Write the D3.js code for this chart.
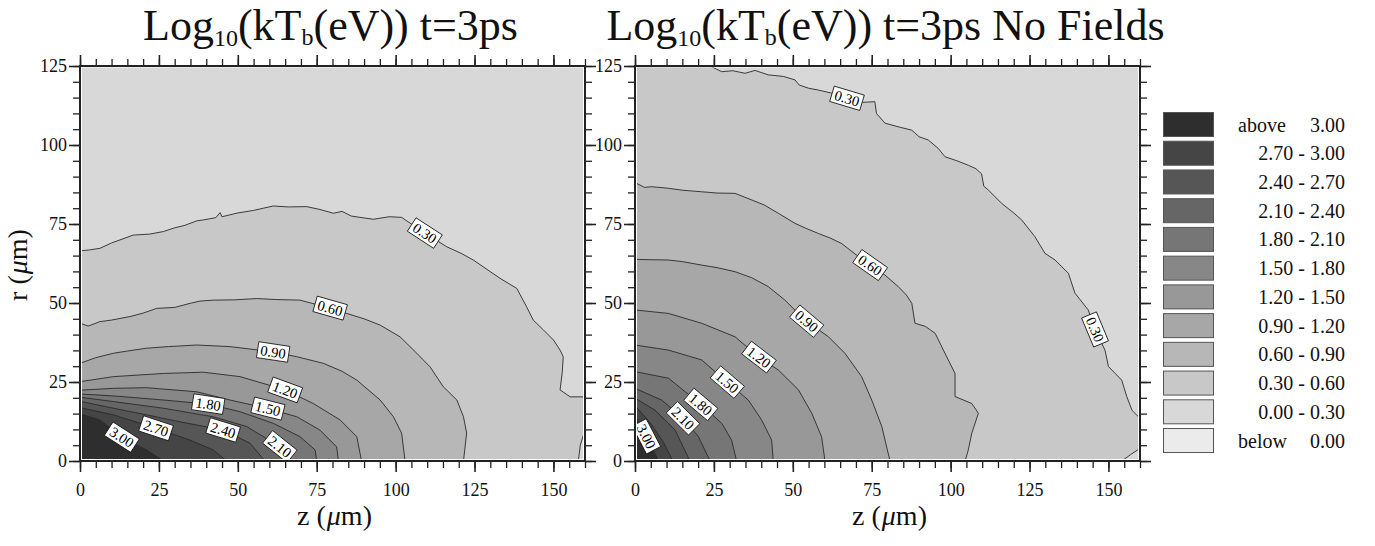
<!DOCTYPE html>
<html><head><meta charset="utf-8">
<script src="https://cdn.jsdelivr.net/npm/d3@7"></script>
<style>
body{margin:0;background:#fff}
svg{display:block}
text{font-family:"Liberation Serif","Times New Roman",serif}
</style>
</head><body>
<svg id="chart" width="1375" height="546"></svg>
<script>
// ---------- data ----------
const levels = [0.30, 0.60, 0.90, 1.20, 1.50, 1.80, 2.10, 2.40, 2.70, 3.00];
const levelText = ["0.30","0.60","0.90","1.20","1.50","1.80","2.10","2.40","2.70","3.00"];
const zMajorTicks = [0, 25, 50, 75, 100, 125, 150];
const rMajorTicks = [0, 25, 50, 75, 100, 125];
const zMinorTicks = d3.range(0, 161, 5);
const rMinorTicks = d3.range(0, 126, 5);
const legendLabels = ["above|3.00","2.70 - 3.00","2.40 - 2.70","2.10 - 2.40","1.80 - 2.10","1.50 - 1.80",
  "1.20 - 1.50","0.90 - 1.20","0.60 - 0.90","0.30 - 0.60","0.00 - 0.30","below|0.00"];
const titles = ["t=3ps", "t=3ps No Fields"];

// contour lines, [z (µm), r (µm)] — left panel (with fields)
const left030 = [[0,66.5],[3,66.8],[6.3,67.3],[10,69],[16.9,71.5],[22,71.8],[26.4,72.6],[30,73.8],[33,74.5],[37,76],[39.1,76.3],[43,77],[44.4,78.6],[45,77.3],[50,78.5],[55,79.3],[58.1,80],[61.3,80.7],[66,80.4],[71.8,80.5],[76,79.6],[80.3,78.4],[83,79],[86,77.5],[92.9,76.5],[98,77.3],[101.9,77.1],[109.3,72.1],[116.2,67.8],[121,65.6],[124.6,63.6],[133.1,57.8],[138.4,54.6],[141.5,48.8],[143.6,44.6],[146.8,41.5],[150,38.3],[152.1,35.1],[153.1,33],[152.8,28],[152.1,22.5],[155.3,20.3],[160,20.3],[160,9.8],[158.5,5],[157.9,0]];
const left060 = [[0,43.6],[2.6,42.7],[6.3,44.1],[10,44.6],[15.8,45.7],[20,46.8],[24.3,48.3],[30,48.6],[34.9,49.9],[38,50.6],[42.2,50.9],[49,51],[56,51.4],[62,51.1],[69.7,50.9],[79.2,48.4],[84.5,46.7],[90,45],[95.1,43],[101.4,39.3],[106.7,34.1],[110.9,29.8],[115.1,23.5],[119.4,19.3],[121.5,14],[122.5,8.8],[121.5,0]];
const left090 = [[0,30.9],[5,32.7],[10.6,34.1],[15,34.8],[21.1,35.7],[28,36.2],[37,36.7],[47.5,36.2],[60.7,34.6],[68.7,33],[77.1,30.9],[83,28.4],[87.7,25.6],[95.1,19.3],[99.3,14],[101.9,8.8],[103,0]];
const left120 = [[0,25.1],[10.6,26.7],[26.4,27.7],[39.1,28.1],[50.7,26.7],[65,22.5],[73.9,18.2],[82.4,13],[87.7,7.7],[89.2,0]];
const left150 = [[0,22.4],[10.6,23],[21.1,23.2],[37,21.9],[47.5,19.3],[59.1,16.7],[68.7,14],[76,9.8],[81.3,4.5],[81.9,0]];
const left180 = [[0,21.2],[10.6,20.6],[26.4,19.3],[40.7,18],[50.7,15.6],[61.3,11.9],[69.7,7.7],[74.5,3.5],[75,0]];
const left210 = [[0,20.2],[10.6,18.8],[26.4,16.7],[42.2,14],[52.8,10.9],[63.4,4.5],[66.5,0]];
const left240 = [[0,18.9],[10.6,16.7],[21.1,14.6],[31.7,12.4],[45.4,9.8],[53.9,5.6],[58.6,0]];
const left270 = [[0,16.9],[10.6,14.6],[24.3,10.3],[34.9,6.6],[42.2,3.5],[46.5,0]];
const left300 = [[0,14.9],[6.3,13],[13.7,7.2],[21.1,3.5],[26.4,0]];
// right panel (no fields)
const right030 = [[23.8,125],[27.5,123.2],[31,123.5],[34.9,122.7],[38,123.6],[42.2,122.2],[47,121.7],[50.7,120.6],[52,119],[54.9,118],[58,117.4],[62,116.5],[67.1,114.8],[72,113.5],[76,113.7],[76.5,110],[79.2,106.9],[84,105.6],[87.7,104.7],[90,102.6],[92.9,101.6],[96,99],[98.2,96.3],[102,95],[105.6,93.6],[108,92.5],[109.8,90.9],[110.5,87],[112,85.7],[116.2,81.5],[120,78.5],[122.5,76.3],[126.7,71],[129.9,65.7],[133.1,63.6],[137.3,59.4],[139.4,53.1],[143.6,47.8],[145.8,41.5],[148.9,35.1],[150,29.9],[154.2,25.6],[155.8,20.4],[157.5,16],[160,13.5],[160,4],[157,2],[154.2,0]];
const right060 = [[0,88.1],[3,86.6],[5.3,86.8],[10.6,86.3],[15,85.7],[21.1,85.2],[26,84.8],[31.7,84.7],[37,82.6],[41,81],[45.4,78.4],[50.7,75.2],[54,73.7],[58.1,72],[62,70.5],[65.5,68.8],[70,65.3],[74.5,62],[79,59],[83.4,55.2],[86,52.5],[87.7,49.9],[88.7,43.6],[92,42.6],[95.1,40.4],[98.2,34.1],[101.4,27.7],[101.4,20.4],[106.7,18.2],[108.8,15.1],[106.7,8.8],[105.6,3.5],[104.6,0]];
const right090 = [[0,63.8],[5,63.7],[10.6,63.6],[15,63.1],[21.1,62],[26,61.2],[31.7,59.9],[37,58],[42.2,55.2],[47.5,50.9],[53.9,44.6],[61.3,39.3],[66.5,34.1],[71.8,26.7],[75,19.3],[78.2,10.9],[80.8,0]];
const right120 = [[0,47.8],[10.6,46.7],[21.1,43.6],[31.7,39.3],[39.1,33],[45.4,28.8],[51.8,22.5],[56,15.1],[59.1,7.7],[60.2,0]];
const right150 = [[0,36.7],[10.6,35.1],[21.1,32],[28.5,25.6],[35.9,19.3],[40.1,13],[43.3,6.6],[43.8,0]];
const right180 = [[0,28.3],[10.6,26.2],[21.1,17.7],[27.5,11.9],[30.6,6.6],[32.2,0]];
const right210 = [[0,23],[8.4,19.3],[14.8,14],[20.1,7.7],[23.8,0]];
const right240 = [[0,19.9],[6.3,16.1],[12.7,9.8],[17.4,0]];
const right270 = [[0,17.5],[4.5,12.5],[9,6],[12,0]];
const right300 = [[0,14.5],[2.5,10],[4.5,6],[6.5,2],[7.5,0]];

// contour label anchors [level index, z, r]
const leftLabels = [[0,109.3,72.2],[1,79.2,48.2],[2,61.2,34.5],[3,65,22.5],[4,59.6,16.8],[5,40.6,17.8],[6,63.4,4.7],[7,45.3,9.6],[8,24.1,10.4],[9,13.3,7.6]];
const rightLabels = [[0,67.2,114.9],[0,145.4,41.5],[1,74.5,62],[2,54.2,44],[3,39.3,32.9],[4,28.5,24.1],[5,20.9,18],[6,14.6,13],[9,3.2,7.6]];

// ---------- style ----------
const bandColors = ["#2e2e2e","#454545","#565656","#666666","#767676","#878787","#989898","#a7a7a7","#b7b7b7","#c8c8c8","#d8d8d8","#ebebeb"];
const fillAbove = i => bandColors[levels.length - 1 - i];

const svg = d3.select("#chart");
const panels = [
  {x0: 80, x1: 585, curves: [left030,left060,left090,left120,left150,left180,left210,left240,left270,left300], labels: leftLabels, title: titles[0]},
  {x0: 635, x1: 1140, curves: [right030,right060,right090,right120,right150,right180,right210,right240,right270,right300], labels: rightLabels, title: titles[1]}
];
const yTop = 66, yBot = 461;

panels.forEach((p, pi) => {
  const x = d3.scaleLinear().domain([0, 160]).range([p.x0, p.x1]);
  const y = d3.scaleLinear().domain([0, 125]).range([yBot, yTop]);
  const g = svg.append("g");
  const clipId = "clip" + pi;
  svg.append("clipPath").attr("id", clipId).append("rect")
    .attr("x", p.x0 + 2).attr("y", yTop + 1.5).attr("width", p.x1 - p.x0 - 4).attr("height", yBot - yTop - 3.5);
  const plot = g.append("g").attr("clip-path", `url(#${clipId})`);
  plot.append("rect").attr("x", x(0)).attr("y", y(125)).attr("width", x(160) - x(0)).attr("height", y(0) - y(125))
    .attr("fill", bandColors[10]);
  const line = d3.line().x(d => x(d[0])).y(d => y(d[1]));
  p.curves.forEach((c, i) => {
    const poly = c.concat([[0, 0], [0, c[0][1]]]);
    plot.append("path").attr("d", line(poly) + "Z").attr("fill", fillAbove(i)).attr("stroke", "none");
  });
  p.curves.forEach(c => {
    plot.append("path").attr("d", line(c)).attr("fill", "none").attr("stroke", "#2a2a2a").attr("stroke-width", 0.9);
  });
  // labels
  p.labels.forEach(([li, lz, lr]) => {
    const c = p.curves[li].map(d => [x(d[0]), y(d[1])]);
    const P = [x(lz), y(lr)];
    let best = null;
    for (let k = 0; k < c.length - 1; k++) {
      const a = c[k], b = c[k + 1];
      const dx = b[0] - a[0], dy = b[1] - a[1];
      const L2 = dx * dx + dy * dy || 1;
      let t = ((P[0] - a[0]) * dx + (P[1] - a[1]) * dy) / L2;
      t = Math.max(0, Math.min(1, t));
      const q = [a[0] + t * dx, a[1] + t * dy];
      const d2 = (q[0] - P[0]) ** 2 + (q[1] - P[1]) ** 2;
      if (!best || d2 < best.d2) best = {d2, q, k};
    }
    const q = best.q;
    const pts = c;
    let before = pts[0], after = pts[pts.length - 1];
    for (let k = best.k; k >= 0; k--) { if (Math.hypot(pts[k][0]-q[0], pts[k][1]-q[1]) >= 12) { before = pts[k]; break; } }
    for (let k = best.k + 1; k < pts.length; k++) { if (Math.hypot(pts[k][0]-q[0], pts[k][1]-q[1]) >= 12) { after = pts[k]; break; } }
    let ang = Math.atan2(after[1] - before[1], after[0] - before[0]) * 180 / Math.PI;
    if (ang > 90) ang -= 180;
    if (ang < -90) ang += 180;
    const lg = plot.append("g").attr("transform", `translate(${q[0]},${q[1]}) rotate(${ang})`);
    const t = lg.append("text").attr("text-anchor", "middle").attr("dy", "0.35em")
      .attr("font-size", 14.5).attr("fill", "#000").text(levelText[li]);
    const w = t.node().getComputedTextLength() + 6;
    lg.insert("rect", "text").attr("x", -w / 2).attr("y", -8).attr("width", w).attr("height", 16)
      .attr("fill", "#fff").attr("stroke", "#111").attr("stroke-width", 0.8);
  });
  // axes
  const styleAxis = (sel, sw) => {
    sel.select(".domain").remove();
    sel.selectAll(".tick line").attr("stroke", "#222").attr("stroke-width", sw);
    sel.selectAll(".tick text").attr("font-size", 18).attr("fill", "#111")
      .style("font-family", '"Liberation Serif","Times New Roman",serif');
  };
  const fmt = d3.format("d");
  g.append("g").attr("transform", `translate(0,${yBot})`)
    .call(d3.axisBottom(x).tickValues(zMinorTicks).tickSize(7).tickFormat("")).call(s => styleAxis(s, 1.3));
  g.append("g").attr("transform", `translate(0,${yBot})`)
    .call(d3.axisBottom(x).tickValues(zMajorTicks).tickSize(11).tickPadding(11).tickFormat(fmt)).call(s => styleAxis(s, 1.6));
  g.append("g").attr("transform", `translate(0,${yTop})`)
    .call(d3.axisTop(x).tickValues(zMinorTicks).tickSize(7).tickFormat("")).call(s => styleAxis(s, 1.3));
  g.append("g").attr("transform", `translate(0,${yTop})`)
    .call(d3.axisTop(x).tickValues(zMajorTicks).tickSize(11).tickFormat("")).call(s => styleAxis(s, 1.6));
  g.append("g").attr("transform", `translate(${p.x0},0)`)
    .call(d3.axisLeft(y).tickValues(rMinorTicks).tickSize(7).tickFormat("")).call(s => styleAxis(s, 1.3));
  g.append("g").attr("transform", `translate(${p.x0},0)`)
    .call(d3.axisLeft(y).tickValues(rMajorTicks).tickSize(11).tickPadding(2).tickFormat(fmt)).call(s => styleAxis(s, 1.6));
  g.append("g").attr("transform", `translate(${p.x1},0)`)
    .call(d3.axisRight(y).tickValues(rMinorTicks).tickSize(7).tickFormat("")).call(s => styleAxis(s, 1.3));
  g.append("g").attr("transform", `translate(${p.x1},0)`)
    .call(d3.axisRight(y).tickValues(rMajorTicks).tickSize(11).tickFormat("")).call(s => styleAxis(s, 1.6));
  g.append("rect").attr("x", p.x0).attr("y", yTop).attr("width", p.x1 - p.x0).attr("height", yBot - yTop)
    .attr("fill", "none").attr("stroke", "#222").attr("stroke-width", 2);

  // title
  const cx = (p.x0 + p.x1) / 2;
  const tt = svg.append("text").attr("x", cx - 2).attr("y", 40).attr("text-anchor", "middle")
    .attr("font-size", 44).attr("fill", "#111");
  tt.append("tspan").text("Log");
  tt.append("tspan").attr("font-size", 24).attr("dy", 6).text("10");
  tt.append("tspan").attr("dy", -6).text("(kT");
  tt.append("tspan").attr("font-size", 24).attr("dy", 5).text("b");
  tt.append("tspan").attr("dy", -5).text("(eV)) " + p.title);

  // x-axis title
  const xt = svg.append("text").attr("x", cx + 2).attr("y", 525).attr("text-anchor", "middle")
    .attr("font-size", 28).attr("fill", "#111");
  xt.append("tspan").text("z (");
  xt.append("tspan").attr("font-style", "italic").attr("dx", 1).text("\u03bc");
  xt.append("tspan").text("m)");
});

// y-axis title
const yt = svg.append("text").attr("transform", "translate(27,265) rotate(-90)").attr("text-anchor", "middle")
  .attr("font-size", 28).attr("fill", "#111");
yt.append("tspan").text("r (");
yt.append("tspan").attr("font-style", "italic").attr("dx", 1).text("\u03bc");
yt.append("tspan").text("m)");

// legend
const legY = d3.scaleBand().domain(d3.range(legendLabels.length)).range([112, 112 + 28.73 * 12]).paddingInner(0);
const leg = svg.append("g");
legendLabels.forEach((lab, i) => {
  const yy = legY(i);
  leg.append("rect").attr("x", 1163.5).attr("y", yy + 0.5).attr("width", 50).attr("height", 24)
    .attr("fill", bandColors[i]).attr("stroke", "#555").attr("stroke-width", 1);
  const parts = lab.split("|");
  if (parts.length === 2) {
    leg.append("text").attr("x", 1238).attr("y", yy + 19.5).attr("font-size", 20).attr("fill", "#111").text(parts[0]);
    leg.append("text").attr("x", 1345).attr("y", yy + 19.5).attr("text-anchor", "end").attr("font-size", 20).attr("fill", "#111").text(parts[1]);
  } else {
    leg.append("text").attr("x", 1345).attr("y", yy + 19.5).attr("text-anchor", "end").attr("font-size", 20).attr("fill", "#111").text(lab);
  }
});
</script>
</body></html>
